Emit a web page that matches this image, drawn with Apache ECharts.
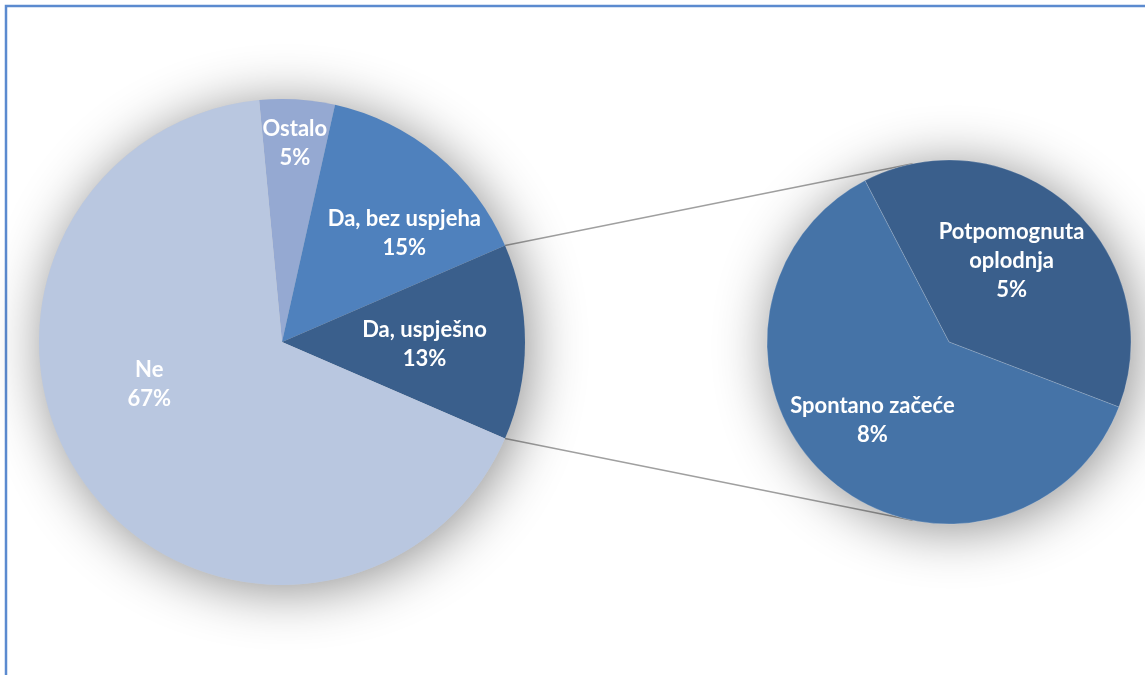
<!DOCTYPE html>
<html>
<head>
<meta charset="utf-8">
<script src="https://cdn.jsdelivr.net/npm/echarts@6/dist/echarts.min.js"></script>
<style>
html,body{margin:0;padding:0;background:#fff;}
#c{width:1145px;height:675px;}
</style>
</head>
<body>
<div id="c"></div>
<script>
// ---- data ----
const categories = ['Ostalo', 'Da, bez uspjeha', 'Da, uspješno', 'Ne'];
const mainValues = [5, 15, 13, 67];
const subCategories = ['Potpomognuta\noplodnja', 'Spontano začeće'];
const subValues = [5, 8];

// ---- styles / layout ----
const mainColors = ['#95A9D2', '#4F81BD', '#3A5F8C', '#B9C7E0'];
const subColors = ['#3A5F8C', '#4573A7'];
const mainLabelOffsets = [[5, -74], [43, -13], [18, 2], [-32, -31]];
const subLabelOffsets = [[0, -11], [-14, 8]];
const C1 = [282, 342], R1 = 243;
const C2 = [949, 342], R2 = 182;
const splitIndex = 2; // 'Da, uspješno' is broken out

const total = mainValues.reduce((a, b) => a + b, 0);
let before = 0;
for (let i = 0; i < splitIndex; i++) before += mainValues[i];
const splitDeg = mainValues[splitIndex] / total * 360;
const startClockFromTop = 90 - splitDeg / 2 - before / total * 360; // clockwise from top
const mainStart = 90 - startClockFromTop;
const subStart = 117.5;

const labelStyle = {
  show: true, position: 'inside', color: '#fff',
  fontFamily: 'Lato', fontWeight: 'bold', fontSize: 22, lineHeight: 29,
  formatter: p => p.name + '\n' + p.value + '%'
};

const mainData = categories.map((n, i) => ({
  name: n, value: mainValues[i],
  itemStyle: { color: mainColors[i] },
  label: { offset: mainLabelOffsets[i] }
}));
const subData = subCategories.map((n, i) => ({
  name: n, value: subValues[i],
  itemStyle: { color: subColors[i] },
  label: { offset: subLabelOffsets[i] }
}));

const toRad = d => d * Math.PI / 180;
const a1 = toRad(startClockFromTop + before / total * 360);
const a2 = toRad(startClockFromTop + before / total * 360 + splitDeg);
const p1 = [C1[0] + R1 * Math.sin(a1), C1[1] - R1 * Math.cos(a1)];
const p2 = [C1[0] + R1 * Math.sin(a2), C1[1] - R1 * Math.cos(a2)];
const t = toRad(11.5);
const q1 = [C2[0] - R2 * Math.sin(t), C2[1] - R2 * Math.cos(t)];
const q2 = [C2[0] - R2 * Math.sin(t), C2[1] + R2 * Math.cos(t)];

const shadowPie = (c, r) => ({
  type: 'pie', center: c, radius: r, silent: true, z: 1,
  label: { show: false }, labelLine: { show: false },
  itemStyle: { color: '#ccc', shadowBlur: 55, shadowColor: 'rgba(0,0,0,0.45)', shadowOffsetX: 4, shadowOffsetY: 5 },
  data: [{ value: 1, name: '' }]
});

const chart = echarts.init(document.getElementById('c'));
chart.setOption({
  animation: false,
  backgroundColor: '#fff',
  graphic: [
    { type: 'rect', shape: { x: 6, y: 6, width: 1160, height: 690 }, style: { fill: 'none', stroke: '#5B8ACF', lineWidth: 2.5 }, z: 0 },
    { type: 'line', shape: { x1: p1[0], y1: p1[1], x2: q1[0], y2: q1[1] }, style: { stroke: '#A0A0A0', lineWidth: 1.5 }, z: 0 },
    { type: 'line', shape: { x1: p2[0], y1: p2[1], x2: q2[0], y2: q2[1] }, style: { stroke: '#A0A0A0', lineWidth: 1.5 }, z: 0 }
  ],
  series: [
    shadowPie(C1, R1),
    shadowPie(C2, R2),
    {
      type: 'pie', center: C1, radius: R1, startAngle: mainStart, clockwise: true, z: 3,
      avoidLabelOverlap: false, labelLine: { show: false }, label: labelStyle,
      itemStyle: { borderWidth: 0 },
      emphasis: { disabled: true },
      data: mainData
    },
    {
      type: 'pie', center: C2, radius: R2, startAngle: subStart, clockwise: true, z: 3,
      avoidLabelOverlap: false, labelLine: { show: false }, label: labelStyle,
      itemStyle: { borderWidth: 0.5, borderColor: 'rgba(255,255,255,0.35)' },
      emphasis: { disabled: true },
      data: subData
    }
  ]
});
</script>
</body>
</html>
